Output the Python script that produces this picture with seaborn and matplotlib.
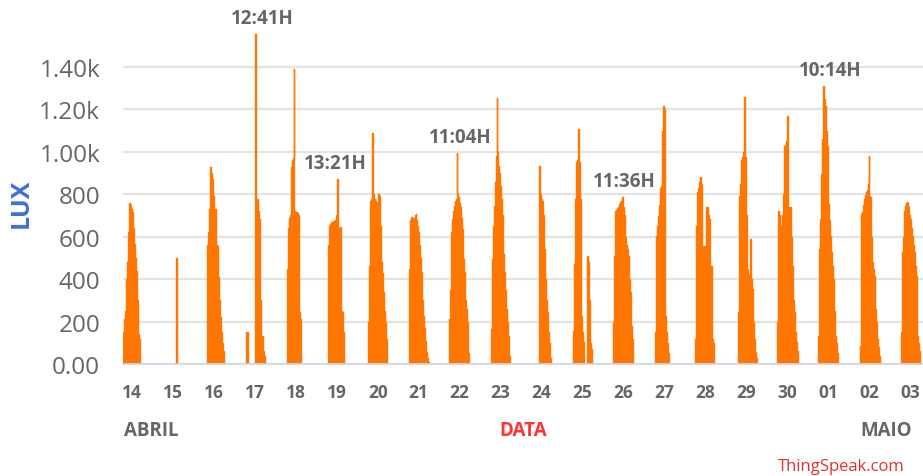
import numpy as np
import pandas as pd
import seaborn as sns
from matplotlib import pyplot as plt

# day labels on the x axis (14 abril .. 03 maio)
day_labels = ['14', '15', '16', '17', '18', '19', '20', '21', '22', '23',
              '24', '25', '26', '27', '28', '29', '30', '01', '02', '03']

# hour of the first reading for each day, readings every half hour
start_hours = [6.5, 14.0, 8.5, 7.0, 7.0, 7.0, 6.5, 6.5, 6.0, 6.5,
               11.0, 7.0, 6.5, 7.0, 6.5, 7.5, 6.5, 6.5, 7.0, 7.0]

# lux readings, one list per day
lux_14 = [100, 150, 210, 250, 300, 400, 480, 620, 760, 750, 730, 720, 715,
          640, 565, 500, 440, 300, 150, 140, 120]
lux_15 = [500]
lux_16 = [560, 620, 730, 930, 900, 870, 860, 790, 730, 730, 560, 555, 410,
          350, 300, 220, 150, 100, 60]
lux_17 = [150, 150, 0, 0, 0, 0, 0, 0, 0, 0, 0, 1555, 780, 778, 720, 683,
          353, 300, 133, 133, 60, 40]
lux_18 = [450, 640, 660, 690, 700, 930, 960, 970, 1390, 720, 716, 716, 710,
          700, 245, 230, 210]
lux_19 = [560, 640, 650, 660, 668, 670, 674, 676, 680, 680, 700, 872, 450,
          640, 646, 400, 250, 245, 150]
lux_20 = [200, 460, 700, 770, 780, 1090, 800, 780, 770, 760, 640, 760, 800,
          790, 650, 600, 480, 430, 340, 250, 200, 120, 60]
lux_21 = [450, 650, 680, 692, 680, 690, 675, 700, 705, 680, 650, 622, 560,
          500, 433, 380, 300, 226, 170, 110, 57, 30, 20, 10]
lux_22 = [212, 350, 480, 620, 683, 720, 745, 768, 780, 995, 800, 787, 760,
          740, 690, 636, 560, 495, 433, 300, 260, 198, 85, 50]
lux_23 = [165, 400, 495, 650, 745, 860, 980, 1254, 1000, 933, 900, 839, 780,
          700, 589, 520, 433, 350, 259, 200, 132, 80, 40]
lux_24 = [933, 800, 780, 770, 700, 560, 540, 400, 300, 245, 150, 100, 57, 30]
lux_25 = [155, 470, 778, 950, 960, 1108, 950, 950, 780, 226, 150, 104, 60,
          0, 0, 0, 509, 480, 300, 226, 100, 71]
lux_26 = [198, 509, 721, 725, 735, 740, 750, 755, 763, 770, 787, 740, 700,
          650, 600, 560, 542, 509, 400, 339, 250, 180, 118]
lux_27 = [151, 603, 650, 698, 750, 810, 830, 839, 1100, 1216, 1200, 226, 200,
          151, 100, 50]
lux_28 = [118, 650, 810, 830, 858, 870, 881, 850, 556, 556, 391, 556, 740,
          740, 740, 700, 683, 462, 462, 462, 118, 100]
lux_29 = [245, 792, 850, 943, 960, 976, 1000, 1258, 976, 700, 509, 450, 410,
          420, 589, 400, 353, 260, 198, 120, 57, 30]
lux_30 = [198, 721, 700, 622, 650, 674, 700, 800, 1028, 1030, 1050, 1169, 740,
          740, 740, 740, 600, 462, 380, 300, 245, 150, 104, 60]
lux_01 = [132, 542, 683, 896, 1000, 1061, 1311, 1250, 1216, 1100, 1028, 900,
          754, 680, 603, 530, 462, 400, 339, 250, 132, 100, 50]
lux_02 = [85, 707, 715, 730, 750, 778, 795, 810, 820, 850, 980, 790, 787, 600,
          480, 450, 415, 340, 259, 200, 118, 80, 40]
lux_03 = [151, 528, 600, 669, 720, 745, 760, 763, 740, 716, 700, 683, 640,
          603, 560, 528, 495, 460, 415, 132, 100, 60]

daily_lux = [lux_14, lux_15, lux_16, lux_17, lux_18, lux_19, lux_20, lux_21,
             lux_22, lux_23, lux_24, lux_25, lux_26, lux_27, lux_28, lux_29,
             lux_30, lux_01, lux_02, lux_03]

# peak time labels and the day they belong to
peak_labels = ['12:41H', '13:21H', '11:04H', '11:36H', '10:14H']
peak_days = [3, 5, 8, 12, 17]
peak_dx = [4.5, -1.5, 2, 1.5, 4.5]

y_ticks = [0, 200, 400, 600, 800, 1000, 1200, 1400]
y_tick_labels = ['0.00', '200', '400', '600', '800', '1.00k', '1.20k', '1.40k']

orange = '#ff7700'
grey = '#666666'


def day_frame(k, start, values):
    hours = start + 0.5 * np.arange(-1, len(values) + 1)
    lux = [0] + list(values) + [0]
    return pd.DataFrame({'t': k + (hours - 12) / 24, 'lux': lux, 'day': k})


df = pd.concat([day_frame(k, s, v)
                for k, (s, v) in enumerate(zip(start_hours, daily_lux))],
               ignore_index=True)

sns.set_style('white')
plt.rcParams['font.family'] = ['Open Sans', 'DejaVu Sans']

fig = plt.figure(figsize=(9.23, 4.77), dpi=100)
ax = fig.add_axes([123 / 923, 112 / 477, 800 / 923, 345 / 477])

for k, g in df.groupby('day'):
    ax.fill_between(g['t'], g['lux'], step='mid', color=orange, lw=0)
sns.lineplot(data=df, x='t', y='lux', units='day', estimator=None,
             drawstyle='steps-mid', color=orange, lw=1, ax=ax, legend=False)

ax.set_xlim(-0.22, 19.32)
ax.set_ylim(0, 1626)
ax.set_yticks(y_ticks)
ax.set_yticklabels(y_tick_labels)
ax.set_xticks(range(len(day_labels)))
ax.set_xticklabels(day_labels)
ax.set_xticks([5.5, 12.5], minor=True)
ax.set_xlabel('')
ax.set_ylabel('')

ax.yaxis.grid(True, color='#e3e3e3', lw=1.6)
ax.set_axisbelow(True)
for side in ['left', 'top', 'right']:
    ax.spines[side].set_visible(False)
ax.spines['bottom'].set_color('#ccd6eb')
ax.spines['bottom'].set_linewidth(1.2)

ax.tick_params(axis='y', length=0, pad=16.5, labelsize=17.5, labelcolor=grey)
ax.tick_params(axis='x', which='major', length=0, pad=14, labelsize=12.5,
               labelcolor=grey)
ax.tick_params(axis='x', which='minor', length=16, width=1.2, color='#ccd6eb')
for lab in ax.get_xticklabels():
    lab.set_fontweight('bold')

for k, label, dx in zip(peak_days, peak_labels, peak_dx):
    g = df[df['day'] == k]
    i = g['lux'].to_numpy().argmax()
    ax.annotate(label, (g['t'].to_numpy()[i], g['lux'].to_numpy()[i]),
                xytext=(dx, 11.5), textcoords='offset points', ha='center',
                va='center', fontsize=13.5, fontweight='bold', color=grey,
                annotation_clip=False)

fig.text(21 / 923, 1 - 203 / 477, 'LUX', rotation=90, ha='center',
         va='center', color='#3d6fdc', fontsize=18, fontweight='bold')
fig.text(124 / 923, 1 - 431 / 477, 'ABRIL', ha='left', va='center',
         fontsize=13.5, fontweight='bold', color=grey)
fig.text(523 / 923, 1 - 431 / 477, 'DATA', ha='center', va='center',
         fontsize=13.5, fontweight='bold', color='#ff3333')
fig.text(912 / 923, 1 - 431 / 477, 'MAIO', ha='right', va='center',
         fontsize=13.5, fontweight='bold', color=grey)
fig.text(905 / 923, 1 - 467 / 477, 'ThingSpeak.com', ha='right', va='center',
         fontsize=12, color='#e0302f')

fig.savefig('out.png', dpi=100)
